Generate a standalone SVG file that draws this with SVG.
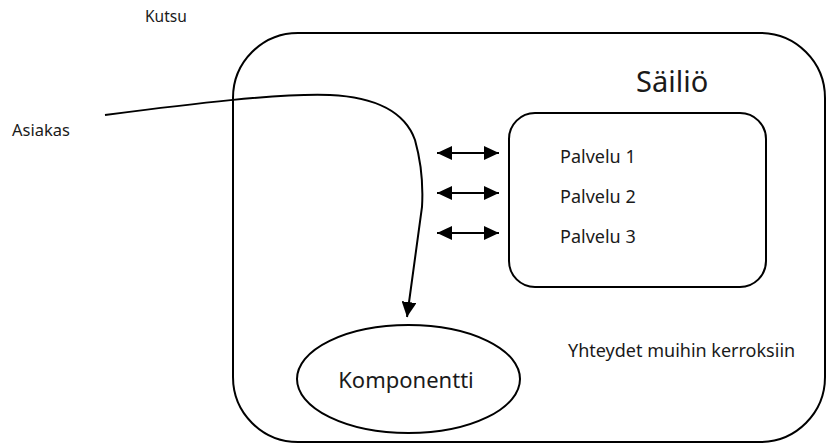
<svg xmlns="http://www.w3.org/2000/svg" width="828" height="446" viewBox="0 0 828 446">
  <defs>
    <!-- filled head for the short two-way links -->
    <marker id="head" viewBox="0 0 15 14" refX="15" refY="7" markerWidth="15" markerHeight="14" markerUnits="userSpaceOnUse" orient="auto-start-reverse">
      <path d="M0,0 L15,7 L0,14 Z" fill="#000"/>
    </marker>
    <!-- filled head for the call curve -->
    <marker id="tip" viewBox="0 0 15 15" refX="15" refY="7.5" markerWidth="15" markerHeight="15" markerUnits="userSpaceOnUse" orient="auto">
      <path d="M0,0 L15,7.5 L0,15 Z" fill="#000"/>
    </marker>
  </defs>
  <style>
    .shape { fill: none; stroke: #000; stroke-width: 2; }
    .wire { fill: none; stroke: #000; stroke-width: 2; }
    text { font-family: "Noto Sans", "Open Sans", sans-serif; fill: #1a1a1a; }
    .mid { font-size: 18px; }
  </style>
  <rect width="828" height="446" fill="#fff"/>

  <g id="sailio">
    <rect class="shape" x="233" y="33" width="592" height="409" rx="65" ry="65"/>
    <text x="636" y="92" font-size="29">Säiliö</text>
  </g>

  <g id="palvelut">
    <rect class="shape" x="509" y="113" width="257" height="174" rx="26" ry="26"/>
    <text class="mid" x="560" y="163">Palvelu 1</text>
    <text class="mid" x="560" y="203">Palvelu 2</text>
    <text class="mid" x="560" y="243">Palvelu 3</text>
  </g>

  <g id="komponentti">
    <ellipse class="shape" cx="408.5" cy="379" rx="111.5" ry="54"/>
    <text x="406" y="388" font-size="22" text-anchor="middle">Komponentti</text>
  </g>

  <g id="asiakas">
    <text x="12" y="136" font-size="16.5">Asiakas</text>
  </g>

  <g id="labels">
    <text x="145" y="22" font-size="15.5">Kutsu</text>
    <text class="mid" x="568" y="357">Yhteydet muihin kerroksiin</text>
  </g>

  <g id="connectors">
    <path class="wire" d="M105,115 C190,104 280,93 330,95 C375,97 405,112 415,140 C422,165 423,190 422,207 L407,317" marker-end="url(#tip)"/>
    <line class="wire" x1="437" y1="153" x2="499" y2="153" marker-start="url(#head)" marker-end="url(#head)"/>
    <line class="wire" x1="437" y1="193" x2="499" y2="193" marker-start="url(#head)" marker-end="url(#head)"/>
    <line class="wire" x1="437" y1="233" x2="499" y2="233" marker-start="url(#head)" marker-end="url(#head)"/>
  </g>
</svg>
